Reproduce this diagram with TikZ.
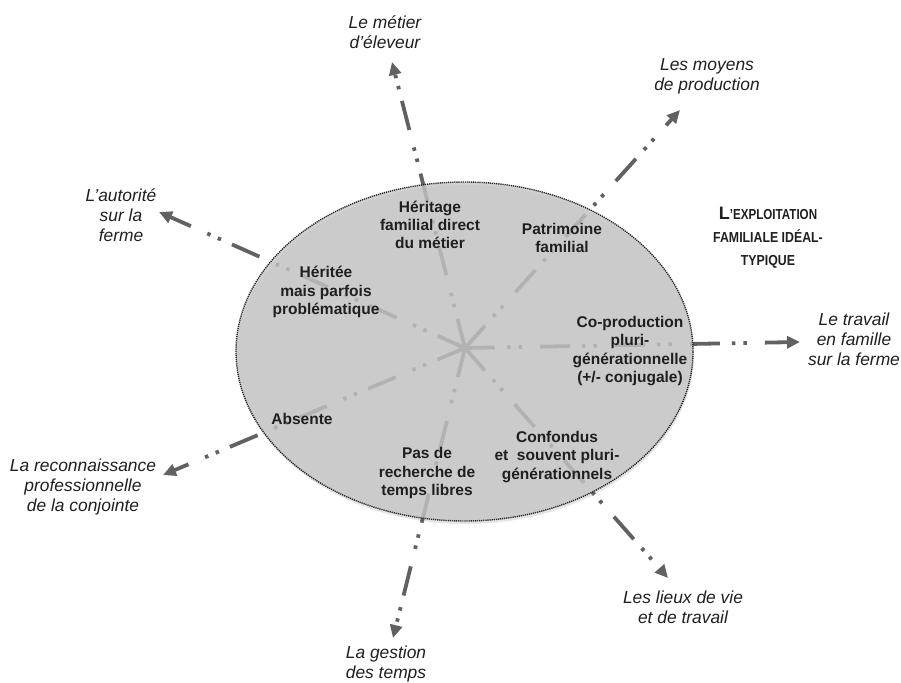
\documentclass[tikz,border=0pt]{standalone}
\usepackage{fontspec}
\setmainfont{Liberation Sans}
\usetikzlibrary{arrows.meta}
\definecolor{raycol}{gray}{0.38}
\definecolor{ellfill}{gray}{0.777}
\definecolor{shadowcol}{gray}{0.9}
\definecolor{txt}{gray}{0.12}
\begin{document}
\begin{tikzpicture}[x=1pt,y=-1pt,
  ray/.style={draw=raycol, line width=3.8pt,
    dash pattern=on 30pt off 12pt on 3.5pt off 8pt on 3.5pt off 18pt,
    -{Triangle[length=13pt,width=12pt]}},
  innertext/.style={font=\fontsize{15.5}{18.3}\selectfont\bfseries, text=txt, align=center, inner sep=0pt},
  outertext/.style={font=\fontsize{17.4}{20}\selectfont\itshape, text=txt, align=center, inner sep=0pt},
  titletext/.style={font=\fontsize{14.5}{23}\selectfont\bfseries, text=txt, align=center, inner sep=0pt}]
\useasboundingbox (0,0) rectangle (901,682);
% centre and arrow tips
\coordinate (c) at (465,348);
\coordinate (tMetier) at (392,62);
\coordinate (tMoyens) at (680,110);
\coordinate (tTravail) at (800,342);
\coordinate (tLieux) at (668,578);
\coordinate (tGestion) at (393,638);
\coordinate (tReco) at (163,475);
\coordinate (tAutorite) at (159,212);
% shadow
\fill[shadowcol] (465.5,354.5) ellipse [x radius=228.5pt, y radius=169.5pt];
% rays
\foreach \t in {tMetier,tMoyens,tTravail,tLieux,tGestion,tReco,tAutorite}
  \draw[ray] (c) -- (\t);
% ellipse over rays
\fill[ellfill, fill opacity=0.806] (464.5,351.5) ellipse [x radius=228.5pt, y radius=169.5pt];
\draw[black!85, line width=1.4pt, dash pattern=on 1.2pt off 0.9pt] (464.5,351.5) ellipse [x radius=228.5pt, y radius=169.5pt];
% inner texts
\node[innertext] (iMetier) at (430,225) {Héritage\\familial direct\\du métier};
\node[innertext] (iMoyens) at (562,238) {Patrimoine\\familial};
\node[innertext] (iAutorite) at (326,292) {Héritée\\mais parfois\\problématique};
\node[innertext] (iTravail) at (630,351) {Co-production\\pluri-\\générationnelle\\(+/- conjugale)};
\node[innertext] (iReco) at (302,419) {Absente};
\node[innertext] (iGestion) at (427,473) {Pas de\\recherche de\\temps libres};
\node[innertext] (iLieux) at (557,457) {Confondus\\et\ \ souvent pluri-\\générationnels};
% title
\node[titletext] (title) at (768,238) {{\fontsize{18}{23}\selectfont L}\scalebox{0.8}[1]{’EXPLOITATION}\\\scalebox{0.85}[1]{FAMILIALE IDÉAL-}\\\scalebox{0.85}[1]{TYPIQUE}};
% outer labels
\node[outertext] (oMetier) at (385,32) {Le métier\\d’éleveur};
\node[outertext] (oMoyens) at (707,76) {Les moyens\\de production};
\node[outertext] (oTravail) at (854,339) {Le travail\\en famille\\sur la ferme};
\node[outertext] (oLieux) at (683,607) {Les lieux de vie\\et de travail};
\node[outertext] (oGestion) at (386,664) {La gestion\\des temps};
\node[outertext] (oReco) at (83,487) {La reconnaissance\\professionnelle\\de la conjointe};
\node[outertext] (oAutorite) at (121,215) {L’autorité\\sur la\\ferme};
\end{tikzpicture}
\end{document}
